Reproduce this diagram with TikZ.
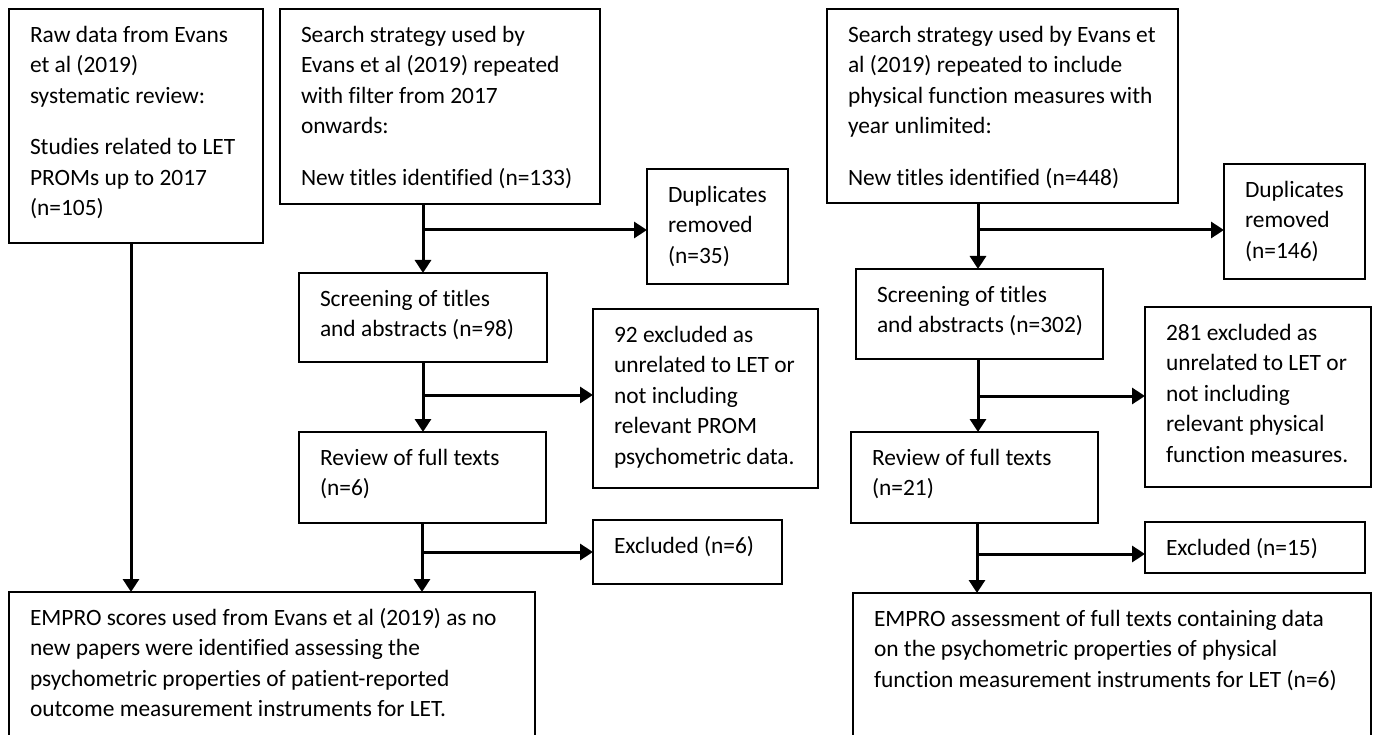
\documentclass[tikz,border=0pt]{standalone}
\usepackage{fontspec}
\setmainfont{Carlito}[Ligatures=NoCommon]
\usetikzlibrary{arrows.meta,calc}
\newcommand{\flowbox}[6]{%
  \node[box, minimum width={#4-#2}, minimum height={#5-#3}] (#1) at (#2,#3) {};
  \node[txt] (#1t) at ($(#1.north west)+(21,0)$) {\rule{0pt}{33.5pt}#6};}
\begin{document}
\begin{tikzpicture}[x=1pt,y=-1pt,
  box/.style={draw, line width=2.6pt, inner sep=0pt, outer sep=0pt, anchor=north west},
  txt/.style={inner sep=0pt, outer sep=0pt, anchor=north west, align=left,
    font=\fontsize{23.4}{30.4}\selectfont},
  arr/.style={line width=3pt, -{Triangle[length=13pt,width=16pt]}}]
\clip (0,0) rectangle (1376,735);
\fill[white] (0,0) rectangle (1376,735);
% left branch
\flowbox{A}{9}{9}{263}{243}{Raw data from Evans\\ et al (2019)\\ systematic review:\\[21.3pt] Studies related to LET\\ PROMs up to 2017\\ (n=105)}
\flowbox{B}{280}{9}{600}{204}{Search strategy used by\\ Evans et al (2019) repeated\\ with filter from 2017\\ onwards:\\[21.3pt] New titles identified (n=133)}
\flowbox{D1}{647}{169}{788}{284}{Duplicates\\ removed\\ (n=35)}
\flowbox{S1}{299}{273}{547}{362}{Screening of titles\\ and abstracts (n=98)}
\flowbox{X1}{593}{309}{818}{488}{92 excluded as\\ unrelated to LET or\\ not including\\ relevant PROM\\ psychometric data.}
\flowbox{R1}{299}{432}{546}{523}{Review of full texts\\ (n=6)}
\flowbox{E1}{593}{520}{782}{584}{Excluded (n=6)}
\flowbox{F1}{9}{592}{535}{900}{EMPRO scores used from Evans et al (2019) as no\\ new papers were identified assessing the\\ psychometric properties of patient-reported\\ outcome measurement instruments for LET.}
% right branch
\flowbox{B2}{827}{9}{1178}{203}{Search strategy used by Evans et\\ al (2019) repeated to include\\ physical function measures with\\ year unlimited:\\[21.3pt] New titles identified (n=448)}
\flowbox{D2}{1224}{164}{1365}{279}{Duplicates\\ removed\\ (n=146)}
\flowbox{S2}{856}{269}{1103}{359}{Screening of titles\\ and abstracts (n=302)}
\flowbox{X2}{1145}{307}{1371}{487}{281 excluded as\\ unrelated to LET or\\ not including\\ relevant physical\\ function measures.}
\flowbox{R2}{851}{432}{1098}{523}{Review of full texts\\ (n=21)}
\flowbox{E2}{1145}{522}{1365}{573}{Excluded (n=15)}
\flowbox{F2}{853}{593}{1371}{900}{EMPRO assessment of full texts containing data\\ on the psychometric properties of physical\\ function measurement instruments for LET (n=6)}
% connectors
\coordinate (jA) at (131,0);
\draw[arr] (A.south -| jA) -- (F1.north -| jA);
\coordinate (j1) at (423,230);
\draw[arr] (B.south -| j1) -- (S1.north -| j1);
\draw[arr] (j1) -- (j1 -| D1.west);
\coordinate (j2) at (423,395);
\draw[arr] (S1.south -| j2) -- (R1.north -| j2);
\draw[arr] (j2) -- (j2 -| X1.west);
\coordinate (j3) at (422,552);
\draw[arr] (R1.south -| j3) -- (F1.north -| j3);
\draw[arr] (j3) -- (j3 -| E1.west);
\coordinate (j4) at (978,230);
\draw[arr] (B2.south -| j4) -- (S2.north -| j4);
\draw[arr] (j4) -- (j4 -| D2.west);
\coordinate (j5) at (978,396);
\draw[arr] (S2.south -| j5) -- (R2.north -| j5);
\draw[arr] (j5) -- (j5 -| X2.west);
\coordinate (j6) at (977,554);
\draw[arr] (R2.south -| j6) -- (F2.north -| j6);
\draw[arr] (j6) -- (j6 -| E2.west);
\end{tikzpicture}
\end{document}
